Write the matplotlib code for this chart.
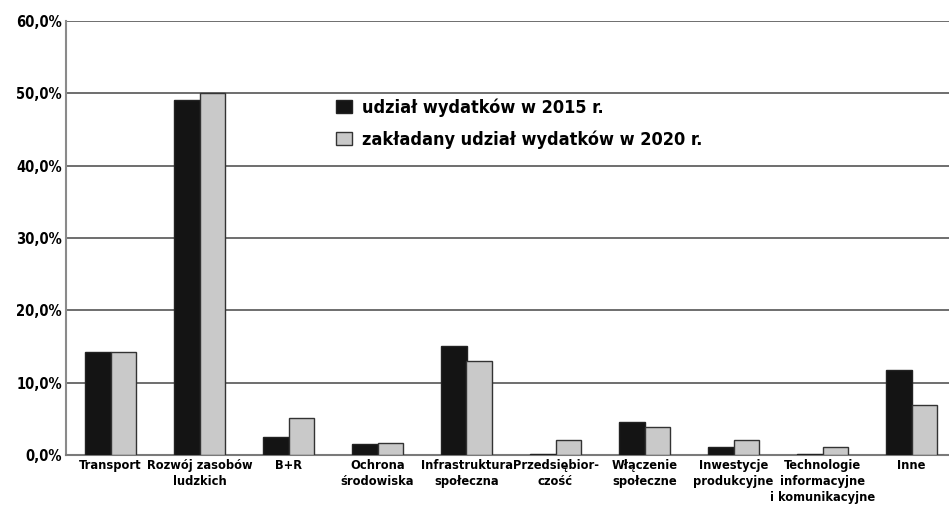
import matplotlib
matplotlib.use("Agg")
import matplotlib.pyplot as plt
import numpy as np

categories = ["Transport", "Rozwój zasobów\nludzkich", "B+R", "Ochrona\nśrodowiska",
              "Infrastruktura\nspołeczna", "Przedsiębior-\nczość", "Włączenie\nspołeczne",
              "Inwestycje\nprodukcyjne", "Technologie\ninformacyjne\ni komunikacyjne", "Inne"]
share_2015 = [14.2, 49.1, 2.5, 1.5, 15.1, 0.1, 4.6, 1.1, 0.1, 11.8]
share_2020 = [14.2, 50.0, 5.1, 1.6, 13.0, 2.1, 3.9, 2.1, 1.1, 6.9]
series_labels = ["udział wydatków w 2015 r.", "zakładany udział wydatków w 2020 r."]
yticks = [0, 10, 20, 30, 40, 50, 60]
ytick_labels = ["0,0%", "10,0%", "20,0%", "30,0%", "40,0%", "50,0%", "60,0%"]

plt.rcParams['font.family'] = ['DejaVu Sans']
W, H = 949, 509
fig = plt.figure(figsize=(W/100, H/100), dpi=100)
ax = fig.add_axes([66/W, (H-455)/H, (956-66)/W, (455-21)/H])

x = np.arange(len(categories))
w = 0.29
ax.bar(x - w/2, share_2015, w, color="#141414", edgecolor="#222222", linewidth=1, label=series_labels[0], zorder=3)
ax.bar(x + w/2, share_2020, w, color="#c9c9c9", edgecolor="#333333", linewidth=1, label=series_labels[1], zorder=3)

ax.set_xlim(-0.5, len(categories) - 0.5)
ax.set_ylim(0, 60)
ax.set_yticks(yticks)
ax.set_yticklabels(ytick_labels, fontsize=10.5, fontweight="bold", fontstretch="condensed")
ax.set_xticks(x)
ax.set_xticklabels(categories, fontsize=9.2, fontweight="bold", fontstretch="condensed", linespacing=1.3)
ax.tick_params(axis="x", length=0, pad=3)
ax.tick_params(axis="y", length=0, pad=3)
ax.grid(axis="y", color="#6e6e6e", linewidth=1.4, zorder=0)
for s in ["top", "right"]:
    ax.spines[s].set_visible(False)
ax.spines["left"].set_color("#8a8a8a")
ax.spines["left"].set_linewidth(1.5)
ax.spines["bottom"].set_color("#7a7a7a")
ax.spines["bottom"].set_linewidth(1.5)

leg = ax.legend(loc="upper left", bbox_to_anchor=((320-66)/890, (455-82)/434), frameon=False,
                prop={"size": 13, "weight": "bold", "stretch": "condensed"},
                handlelength=0.9, handleheight=0.8, handletextpad=0.5, labelspacing=0.75)

fig.savefig("out.png", dpi=100)
